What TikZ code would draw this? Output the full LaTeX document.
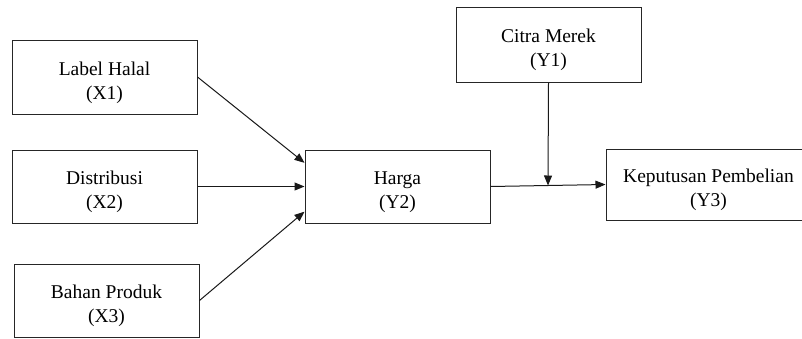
\documentclass[tikz,border=0pt]{standalone}
\usepackage{fontspec}
\setmainfont{Liberation Serif}
\usetikzlibrary{arrows.meta,calc}
\newcommand{\toplift}{\rule{0pt}{25pt}}
\tikzset{
  varbox/.style={draw=black!85, line width=1pt, rectangle, inner sep=0pt, align=center,
    font=\fontsize{19.5}{24}\selectfont},
  link/.style={draw=black!90, line width=1pt, -{Triangle[length=10pt,width=8pt]}}
}
\begin{document}
\begin{tikzpicture}[x=1pt,y=-1pt]
\useasboundingbox (0,0) rectangle (802,338);
\clip (0,0) rectangle (802,338);
\fill[white] (0,0) rectangle (802,338);
\node[varbox, minimum width=185pt, minimum height=74pt] (x1) at (104.5,77) {\toplift Label Halal\\(X1)};
\node[varbox, minimum width=185pt, minimum height=73pt] (x2) at (104.5,186.5) {\toplift Distribusi\\(X2)};
\node[varbox, minimum width=185pt, minimum height=73pt] (x3) at (106.5,300.5) {\toplift Bahan Produk\\(X3)};
\node[varbox, minimum width=185pt, minimum height=73pt] (y2) at (397.5,186.5) {\toplift Harga\\(Y2)};
\node[varbox, minimum width=185pt, minimum height=75pt] (y1) at (548.5,44.5) {\toplift Citra Merek\\(Y1)};
\node[varbox, minimum width=200pt, minimum height=71pt] (y3) at (706,184.5) {\toplift\hspace*{5pt}Keputusan Pembelian\\\hspace*{5pt}(Y3)};
\draw[link] (x1.east) -- ($(y2.north west)!0.18!(y2.south west)$);
\draw[link] (x2.east) -- (y2.west);
\draw[link] (x3.east) -- ($(y2.north west)!0.84!(y2.south west)$);
\draw[link] (y2.east) -- (y3.west);
\coordinate (mid) at ($(y2.east)!0.5!(y3.west)$);
\draw[link] (y1.south) -- (mid);
\end{tikzpicture}
\end{document}
